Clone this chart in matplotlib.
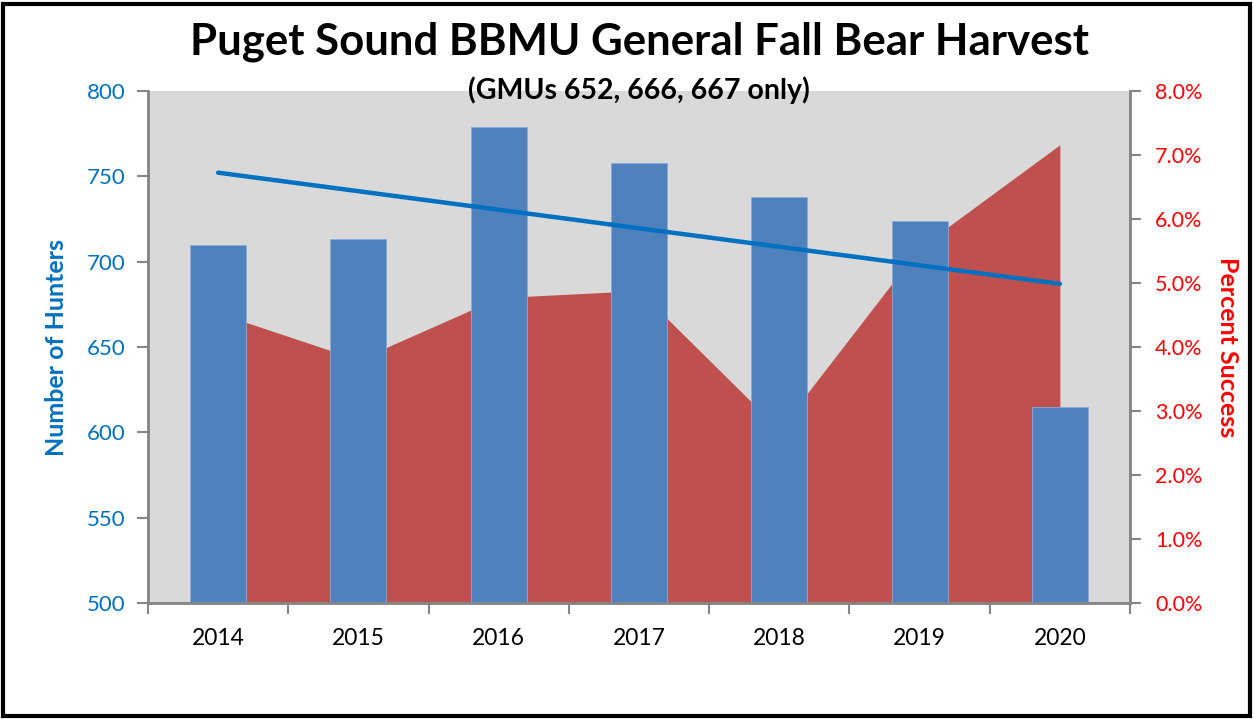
import numpy as np
import matplotlib
matplotlib.use("Agg")
import matplotlib.pyplot as plt
from matplotlib.ticker import FuncFormatter, FixedLocator
from matplotlib.patches import Rectangle

years = ["2014", "2015", "2016", "2017", "2018", "2019", "2020"]
hunters = [710, 713, 779, 758, 738, 724, 615]
success_pct = [4.53, 3.80, 4.77, 4.88, 2.71, 5.55, 7.16]

title = "Puget Sound BBMU General Fall Bear Harvest"
subtitle = "(GMUs 652, 666, 667 only)"

W, H = 1254, 719
fig = plt.figure(figsize=(W / 100, H / 100), dpi=100)
plt.rcParams['font.family'] = ['Lato', 'DejaVu Sans']

# black border
fig.patches.append(Rectangle((3 / W, 3 / H), 1 - 7 / W, 1 - 7 / H, transform=fig.transFigure,
                             fill=False, edgecolor='black', linewidth=3))

left, right, top, bottom = 148, 1130, 91, 603
ax = fig.add_axes([left / W, (H - bottom) / H, (right - left) / W, (bottom - top) / H])
ax2 = ax.twinx()
ax.set_zorder(ax2.get_zorder() + 1)
ax.patch.set_visible(False)
ax2.patch.set_visible(True)
ax2.patch.set_facecolor('#D9D9D9')

x = np.arange(len(years))
gray = '#868686'

# area on secondary axis
ax2.fill_between(x, 0, success_pct, color='#C0504D', linewidth=0)
ax2.set_ylim(0, 8)
ax2.set_yticks(np.arange(0, 9, 1))
ax2.yaxis.set_major_formatter(FuncFormatter(lambda v, p: f"{v:.1f}%"))
ax2.tick_params(axis='y', colors=gray, labelcolor='#FF0000', labelsize=15.5, length=8, width=1.5, direction='out', pad=10)

# bars
ax.bar(x, hunters, width=0.4, color='#4F81BD', edgecolor='#8EAADB', linewidth=0.6, zorder=2)
# trend line
coef = np.polyfit(x, hunters, 1)
tx = np.array([x[0], x[-1]])
ax.plot(tx, np.polyval(coef, tx), color='#0070C0', linewidth=3.2, solid_capstyle='round', zorder=3)

ax.set_xlim(-0.5, len(years) - 0.5)
ax.set_ylim(500, 800)
ax.set_yticks(np.arange(500, 801, 50))
ax.tick_params(axis='y', colors=gray, labelcolor='#0070C0', labelsize=16, length=8, width=1.5, direction='out', pad=8)

ax.xaxis.set_major_locator(FixedLocator(np.arange(-0.5, len(years), 1.0)))
ax.xaxis.set_minor_locator(FixedLocator(x))
ax.set_xticklabels([])
ax.set_xticklabels(years, minor=True)
ax.tick_params(axis='x', which='major', colors=gray, length=8, width=1.5, direction='out')
ax.tick_params(axis='x', which='minor', length=0, labelsize=16.5, labelcolor='black', pad=18)

for a in (ax, ax2):
    a.spines['top'].set_visible(False)
    for s in ('left', 'right', 'bottom'):
        a.spines[s].set_color(gray)
        a.spines[s].set_linewidth(1.8)

ax.set_ylabel("Number of Hunters", color='#0070C0', fontsize=18, fontweight='bold', labelpad=14)
ax2.set_ylabel("Percent Success", color='#FF0000', fontsize=18, fontweight='bold', rotation=270, labelpad=26)

cx = (left + right) / 2 / W
fig.text(cx, 1 - 42 / H, title, ha='center', va='center', fontsize=31.5, fontweight='bold', color='black')
fig.text(cx, 1 - 90 / H, subtitle, ha='center', va='center', fontsize=20.5, fontweight='bold', color='black')

fig.savefig("out.png", dpi=100)
